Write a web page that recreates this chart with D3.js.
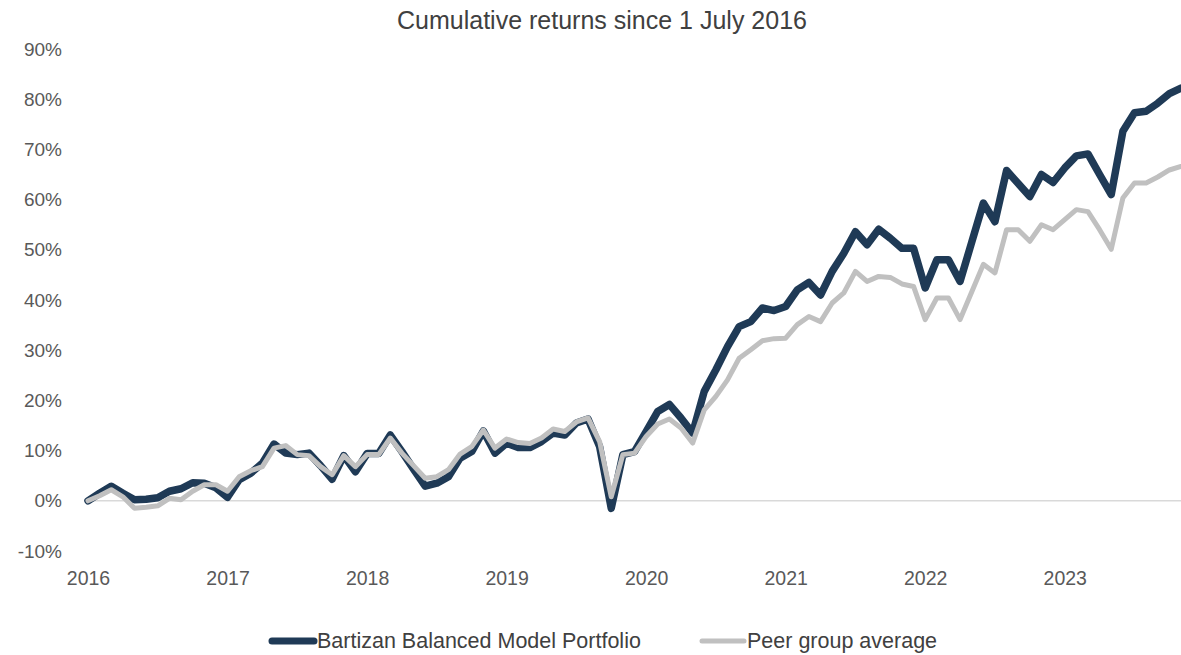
<!DOCTYPE html>
<html>
<head>
    <meta charset="utf-8">
    <title>Cumulative returns</title>
    <style>
        body { margin: 0; background: #fff; }
        text { font-family: "Liberation Sans", Arial, sans-serif; }
    </style>
</head>
<body>
    <script src="https://cdn.jsdelivr.net/npm/d3@7"></script>
    <script>
        // monthly cumulative returns (%) from July 2016
        const portfolio = [0, 1.5, 2.9, 1.5, 0.2, 0.3, 0.6, 1.9, 2.4, 3.6, 3.5, 2.6,
            0.7, 4.2, 5.5, 7.5, 11.3, 9.5, 9.2, 9.5, 7.0, 4.3, 9.0, 5.8,
            9.4, 9.4, 13.1, 9.8, 6.3, 2.9, 3.5, 4.8, 8.5, 9.8, 13.9, 9.5,
            11.5, 10.6, 10.6, 11.8, 13.5, 13.1, 15.5, 16.3, 10.8, -1.5, 9.2, 9.8,
            13.8, 17.8, 19.2, 16.5, 13.5, 21.8, 26.1, 30.7, 34.7, 35.7, 38.4, 37.9,
            38.7, 42.0, 43.5, 41.0, 45.7, 49.3, 53.6, 51.0, 54.1, 52.3, 50.3, 50.3,
            42.4, 48.0, 48.0, 43.7, 51.5, 59.3, 55.6, 65.8, 63.2, 60.6, 65.0, 63.4,
            66.3, 68.7, 69.1, 65.0, 61.0, 73.6, 77.3, 77.6, 79.2, 81.1, 82.2];
        const peers = [0, 1.0, 2.2, 0.8, -1.5, -1.3, -1.0, 0.5, 0.2, 1.9, 3.2, 3.2,
            1.9, 4.8, 6.0, 6.8, 10.5, 11.0, 9.2, 9.0, 6.8, 5.2, 9.0, 6.8,
            9.2, 9.2, 12.5, 9.5, 7.0, 4.5, 4.8, 6.2, 9.3, 10.8, 14.1, 10.5,
            12.3, 11.6, 11.4, 12.5, 14.3, 13.8, 15.7, 16.5, 11.8, 0.8, 9.2, 9.5,
            12.8, 15.3, 16.3, 14.5, 11.5, 18.1, 20.8, 24.1, 28.4, 30.1, 31.9, 32.3,
            32.4, 35.1, 36.7, 35.7, 39.4, 41.4, 45.7, 43.7, 44.7, 44.5, 43.2, 42.7,
            36.1, 40.4, 40.4, 36.1, 41.6, 47.1, 45.4, 54.0, 54.0, 51.7, 55.0, 54.0,
            56.0, 58.0, 57.6, 54.0, 50.1, 60.3, 63.3, 63.3, 64.5, 65.9, 66.6];
        const years = ["2016", "2017", "2018", "2019", "2020", "2021", "2022", "2023"];
        const yTicks = [-10, 0, 10, 20, 30, 40, 50, 60, 70, 80, 90];
        const seriesNames = ["Bartizan Balanced Model Portfolio", "Peer group average"];

        const width = 1181, height = 655;
        const margin = {top: 49, right: 0, bottom: 104, left: 88};
        const colors = ["#1f3a56", "#c0c0c0"];

        const svg = d3.select("body").append("svg")
            .attr("width", width)
            .attr("height", height);

        const x = d3.scaleLinear()
            .domain([0, portfolio.length - 1])
            .range([margin.left, width - margin.right]);
        const y = d3.scaleLinear()
            .domain([-10, 90])
            .range([height - margin.bottom, margin.top]);

        // title
        svg.append("text")
            .attr("x", 602)
            .attr("y", 29)
            .attr("text-anchor", "middle")
            .attr("fill", "#404040")
            .attr("font-size", 25)
            .text("Cumulative returns since 1 July 2016");

        // zero line
        svg.append("line")
            .attr("x1", margin.left)
            .attr("x2", width)
            .attr("y1", y(0))
            .attr("y2", y(0))
            .attr("stroke", "#d9d9d9")
            .attr("stroke-width", 1.5);

        // y axis
        svg.append("g")
            .attr("transform", `translate(${margin.left}, 0)`)
            .call(d3.axisLeft(y).tickValues(yTicks).tickSize(0).tickPadding(26).tickFormat(d => d + "%"))
            .call(g => g.select(".domain").remove())
            .call(g => g.selectAll("text")
                .attr("fill", "#595959")
                .attr("font-size", 19)
                .style("font-family", "Liberation Sans, Arial, sans-serif"));

        // x axis
        svg.append("g")
            .attr("transform", `translate(0, ${y(-10)})`)
            .call(d3.axisBottom(x).tickValues(years.map((d, i) => i * 12)).tickSize(0).tickPadding(20)
                .tickFormat(d => years[d / 12]))
            .call(g => g.select(".domain").remove())
            .call(g => g.selectAll("text")
                .attr("fill", "#595959")
                .attr("font-size", 19.5)
                .style("font-family", "Liberation Sans, Arial, sans-serif"));

        const line = d3.line()
            .x((d, i) => x(i))
            .y(d => y(d));

        svg.append("path")
            .datum(portfolio)
            .attr("d", line)
            .attr("fill", "none")
            .attr("stroke", colors[0])
            .attr("stroke-width", 7.5)
            .attr("stroke-linejoin", "round")
            .attr("stroke-linecap", "round");

        svg.append("path")
            .datum(peers)
            .attr("d", line)
            .attr("fill", "none")
            .attr("stroke", colors[1])
            .attr("stroke-width", 5)
            .attr("stroke-linejoin", "round")
            .attr("stroke-linecap", "round");

        // legend
        const legendX = [272, 702];
        const legend = svg.append("g").attr("class", "legend");
        seriesNames.forEach((name, i) => {
            legend.append("line")
                .attr("x1", legendX[i])
                .attr("x2", legendX[i] + 42)
                .attr("y1", 641)
                .attr("y2", 641)
                .attr("stroke", colors[i])
                .attr("stroke-width", i === 0 ? 7 : 5)
                .attr("stroke-linecap", "round");
            legend.append("text")
                .attr("x", legendX[i] + 45)
                .attr("y", 648)
                .attr("fill", "#404040")
                .attr("font-size", 21.5)
                .text(name);
        });
    </script>
</body>
</html>
